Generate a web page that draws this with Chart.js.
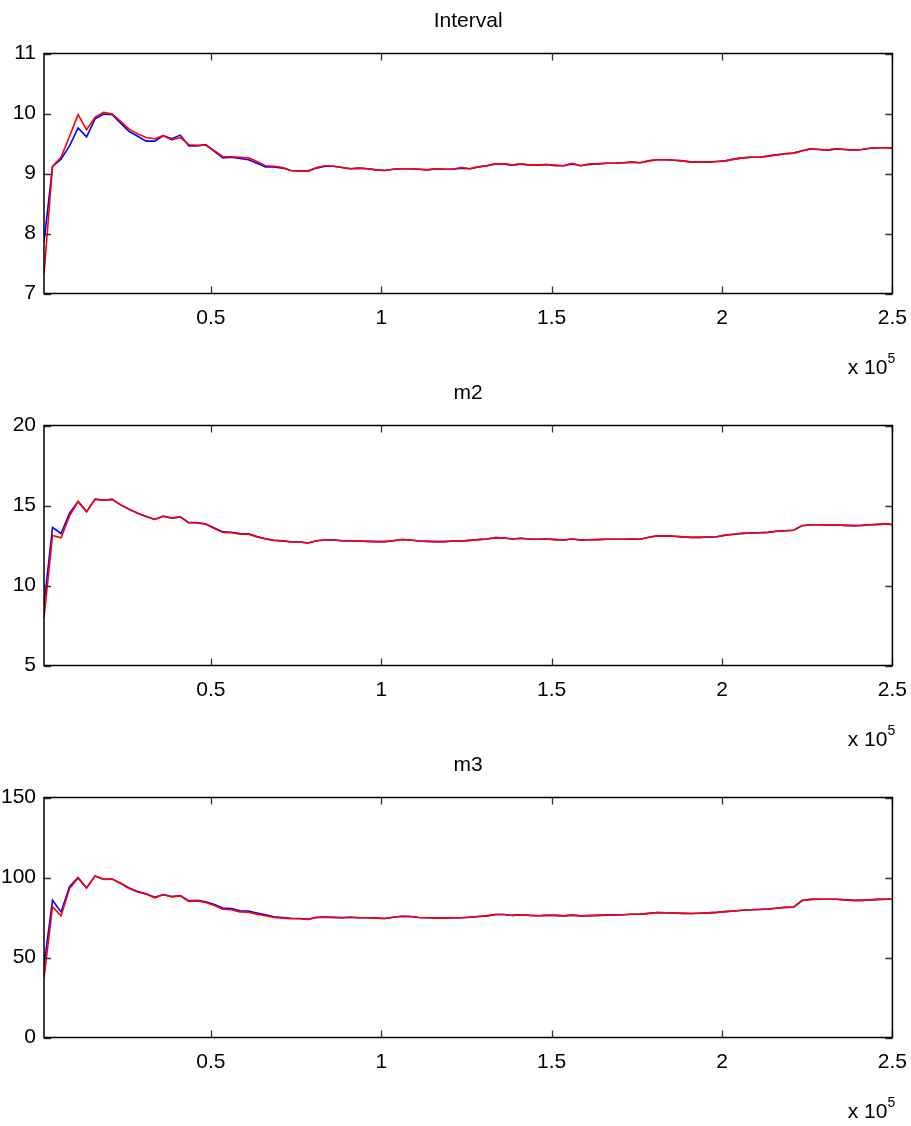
<!DOCTYPE html>
<html>
<head>
<meta charset="utf-8">
<script src="https://cdn.jsdelivr.net/npm/chart.js"></script>
<style>
  html, body { margin: 0; padding: 0; background: #fff; overflow: hidden; }
  .panel { position: absolute; left: 0; }
</style>
</head>
<body>
<canvas id="c1" class="panel" width="911" height="390" style="top:0px"></canvas>
<canvas id="c2" class="panel" width="911" height="390" style="top:372px"></canvas>
<canvas id="c3" class="panel" width="911" height="382" style="top:744px"></canvas>
<script>
// sample positions: first sample at 1000, then every 2500, last one at 250000
const sampleStart = 1000;
const sampleStep = 2500;
const sampleCount = 100;
const xEnd = 250000;
const xTicks = [50000, 100000, 150000, 200000, 250000];

const intervalBlue = [
  7.85, 9.12, 9.24, 9.46, 9.76, 9.61, 9.91, 9.99, 9.98, 9.84,
  9.70, 9.62, 9.54, 9.54, 9.63, 9.58, 9.64, 9.46, 9.46, 9.48,
  9.37, 9.26, 9.27, 9.25, 9.23, 9.17, 9.11, 9.11, 9.09, 9.05,
  9.04, 9.04, 9.09, 9.12, 9.12, 9.10, 9.08, 9.09, 9.08, 9.06,
  9.05, 9.07, 9.08, 9.08, 9.07, 9.06, 9.08, 9.07, 9.07, 9.09,
  9.08, 9.11, 9.13, 9.16, 9.16, 9.14, 9.16, 9.14, 9.14, 9.15,
  9.13, 9.13, 9.16, 9.13, 9.15, 9.16, 9.17, 9.17, 9.18, 9.19,
  9.18, 9.21, 9.23, 9.23, 9.22, 9.21, 9.19, 9.19, 9.19, 9.20,
  9.21, 9.24, 9.26, 9.27, 9.27, 9.29, 9.31, 9.33, 9.34, 9.38,
  9.41, 9.40, 9.39, 9.41, 9.40, 9.39, 9.40, 9.42, 9.43, 9.43,
  9.42
];
const intervalRed = [
  7.32, 9.12, 9.27, 9.62, 9.98, 9.73, 9.94, 10.02, 9.99, 9.87,
  9.74, 9.66, 9.60, 9.58, 9.63, 9.56, 9.60, 9.48, 9.47, 9.47,
  9.38, 9.28, 9.28, 9.27, 9.26, 9.20, 9.13, 9.12, 9.10, 9.05,
  9.04, 9.04, 9.10, 9.13, 9.12, 9.10, 9.08, 9.09, 9.08, 9.06,
  9.05, 9.07, 9.08, 9.08, 9.07, 9.06, 9.08, 9.07, 9.07, 9.10,
  9.08, 9.11, 9.13, 9.16, 9.16, 9.14, 9.16, 9.14, 9.14, 9.15,
  9.14, 9.13, 9.17, 9.13, 9.16, 9.16, 9.17, 9.17, 9.18, 9.19,
  9.18, 9.21, 9.23, 9.23, 9.22, 9.21, 9.19, 9.19, 9.19, 9.20,
  9.21, 9.24, 9.26, 9.27, 9.27, 9.29, 9.31, 9.33, 9.34, 9.38,
  9.41, 9.40, 9.39, 9.41, 9.40, 9.39, 9.40, 9.42, 9.43, 9.43,
  9.42
];

const m2Blue = [
  8.80, 13.63, 13.25, 14.52, 15.25, 14.62, 15.40, 15.33, 15.38, 15.04,
  14.77, 14.52, 14.31, 14.13, 14.33, 14.21, 14.29, 13.93, 13.93, 13.85,
  13.59, 13.35, 13.33, 13.24, 13.23, 13.06, 12.92, 12.83, 12.79, 12.73,
  12.72, 12.66, 12.80, 12.84, 12.84, 12.80, 12.78, 12.78, 12.76, 12.74,
  12.74, 12.80, 12.87, 12.84, 12.78, 12.76, 12.74, 12.74, 12.78, 12.78,
  12.82, 12.87, 12.91, 12.99, 12.97, 12.91, 12.95, 12.91, 12.89, 12.91,
  12.87, 12.84, 12.91, 12.84, 12.86, 12.87, 12.89, 12.89, 12.89, 12.91,
  12.89, 13.02, 13.10, 13.10, 13.08, 13.04, 13.01, 13.01, 13.03, 13.05,
  13.15, 13.20, 13.26, 13.28, 13.30, 13.32, 13.39, 13.42, 13.45, 13.74,
  13.80, 13.80, 13.79, 13.78, 13.76, 13.74, 13.76, 13.80, 13.82, 13.85,
  13.80
];
const m2Red = [
  7.96, 13.13, 12.98, 14.35, 15.25, 14.62, 15.40, 15.33, 15.38, 15.04,
  14.77, 14.52, 14.31, 14.13, 14.33, 14.21, 14.29, 13.92, 13.92, 13.83,
  13.56, 13.31, 13.30, 13.21, 13.21, 13.04, 12.91, 12.82, 12.78, 12.72,
  12.72, 12.66, 12.80, 12.84, 12.84, 12.80, 12.78, 12.78, 12.76, 12.74,
  12.74, 12.80, 12.87, 12.84, 12.78, 12.76, 12.74, 12.74, 12.78, 12.78,
  12.82, 12.87, 12.91, 12.99, 12.97, 12.91, 12.95, 12.91, 12.89, 12.91,
  12.87, 12.84, 12.91, 12.84, 12.86, 12.87, 12.89, 12.89, 12.89, 12.91,
  12.89, 13.02, 13.10, 13.10, 13.08, 13.04, 13.01, 13.01, 13.03, 13.05,
  13.15, 13.20, 13.26, 13.28, 13.30, 13.32, 13.39, 13.42, 13.45, 13.74,
  13.80, 13.80, 13.79, 13.78, 13.76, 13.74, 13.76, 13.80, 13.82, 13.85,
  13.80
];

const m3Blue = [
  45.0, 85.8, 78.5, 94.2, 100.0, 93.5, 101.0, 98.9, 99.1, 96.5,
  93.4, 91.3, 89.9, 87.6, 89.4, 88.1, 88.7, 85.4, 85.8, 84.9,
  83.2, 80.9, 80.6, 79.2, 79.0, 77.8, 76.7, 75.5, 75.0, 74.5,
  74.4, 73.9, 75.1, 75.3, 75.1, 74.9, 75.2, 74.8, 74.8, 74.6,
  74.4, 75.2, 75.8, 75.6, 75.0, 74.8, 74.6, 74.6, 74.8, 74.8,
  75.2, 75.6, 76.0, 76.9, 76.9, 76.3, 76.7, 76.3, 76.1, 76.3,
  76.3, 76.0, 76.5, 76.0, 76.2, 76.3, 76.5, 76.6, 76.7, 77.0,
  77.0, 77.6, 78.1, 78.0, 77.8, 77.6, 77.5, 77.7, 77.9, 78.2,
  78.7, 79.1, 79.5, 79.8, 80.0, 80.3, 80.8, 81.3, 81.5, 85.6,
  86.3, 86.4, 86.4, 86.4, 86.0, 85.7, 85.7, 86.0, 86.3, 86.4,
  86.4
];
const m3Red = [
  36.9, 81.7, 76.0, 93.1, 99.6, 93.5, 101.0, 98.75, 99.0, 96.25,
  93.1, 91.0, 89.6, 87.3, 89.2, 87.9, 88.5, 85.0, 85.4, 84.4,
  82.5, 80.2, 79.9, 78.5, 78.3, 77.1, 76.1, 75.0, 74.6, 74.2,
  74.2, 73.8, 75.0, 75.2, 75.0, 74.8, 75.2, 74.8, 74.8, 74.6,
  74.4, 75.2, 75.8, 75.6, 75.0, 74.8, 74.6, 74.6, 74.8, 74.8,
  75.2, 75.6, 76.0, 76.9, 76.9, 76.3, 76.7, 76.3, 76.1, 76.3,
  76.3, 76.0, 76.5, 76.0, 76.2, 76.3, 76.5, 76.6, 76.7, 77.0,
  77.0, 77.6, 78.1, 78.0, 77.8, 77.6, 77.5, 77.7, 77.9, 78.2,
  78.7, 79.1, 79.5, 79.8, 80.0, 80.3, 80.8, 81.3, 81.5, 85.6,
  86.3, 86.4, 86.4, 86.4, 86.0, 85.7, 85.7, 86.0, 86.3, 86.4,
  86.4
];

const sampleX = [];
for (let k = 0; k < sampleCount; k++) sampleX.push(sampleStart + k * sampleStep);
sampleX.push(xEnd);

const FONT = "'Liberation Sans', Arial, sans-serif";

// MATLAB-like box with inward ticks and the "x 10^5" exponent label
const matlabBox = {
    id: 'matlabBox',
    afterDraw(chart) {
        const { ctx, chartArea, scales } = chart;
        const { left, right, top, bottom } = chartArea;
        const tl = 7;
        ctx.save();
        ctx.strokeStyle = '#333';
        ctx.lineWidth = 1.3;
        ctx.beginPath();
        scales.x.ticks.forEach(t => {
            const px = Math.round(scales.x.getPixelForValue(t.value)) + 0.5;
            ctx.moveTo(px, bottom); ctx.lineTo(px, bottom - tl);
            ctx.moveTo(px, top); ctx.lineTo(px, top + tl);
        });
        scales.y.ticks.forEach(t => {
            const py = Math.round(scales.y.getPixelForValue(t.value)) + 0.5;
            ctx.moveTo(left, py); ctx.lineTo(left + tl, py);
            ctx.moveTo(right, py); ctx.lineTo(right - tl, py);
        });
        ctx.stroke();

        ctx.strokeStyle = '#000';
        ctx.lineWidth = 1.5;
        ctx.strokeRect(left, top, right - left, bottom - top);

        // exponent label
        ctx.fillStyle = '#000';
        ctx.textBaseline = 'alphabetic';
        ctx.textAlign = 'right';
        ctx.font = '21px ' + FONT;
        ctx.fillText('x 10', right - 5, bottom + 80);
        ctx.font = '14px ' + FONT;
        ctx.textAlign = 'left';
        ctx.fillText('5', right - 5, bottom + 69);
        ctx.restore();
    }
};

function makePanel(id, title, blue, red, yMin, yMax, yStep) {
    const canvas = document.getElementById(id);
    const xAxisHeight = canvas.height - 293.5;
    const toPoints = arr => arr.map((v, i) => ({ x: sampleX[i], y: v }));
    new Chart(canvas, {
        type: 'line',
        data: {
            datasets: [
                { data: toPoints(red), borderColor: '#ff0000', borderWidth: 1.6, pointRadius: 0, tension: 0, order: 0 },
                { data: toPoints(blue), borderColor: '#0000ff', borderWidth: 1.6, pointRadius: 0, tension: 0, order: 1 }
            ]
        },
        options: {
            responsive: false,
            animation: false,
            devicePixelRatio: 1,
            layout: { padding: { top: 0, right: 6, bottom: 0, left: 0 } },
            plugins: {
                legend: { display: false },
                tooltip: { enabled: false },
                title: {
                    display: true,
                    fullSize: false,
                    text: title,
                    color: '#000',
                    font: { family: FONT, size: 21, weight: 'normal', lineHeight: 1.2 },
                    padding: { top: 9, bottom: 19.3 }
                }
            },
            scales: {
                x: {
                    type: 'linear',
                    min: sampleStart,
                    max: xEnd,
                    grid: { display: false },
                    border: { display: false },
                    afterBuildTicks: s => { s.ticks = xTicks.map(v => ({ value: v })); },
                    afterFit: s => { s.height = xAxisHeight; },
                    ticks: {
                        color: '#000',
                        padding: 4,
                        maxRotation: 0,
                        font: { family: FONT, size: 21 },
                        callback: v => String(v / 100000)
                    }
                },
                y: {
                    min: yMin,
                    max: yMax,
                    grid: { display: false },
                    border: { display: false },
                    afterFit: s => { s.width = 44; },
                    ticks: {
                        color: '#000',
                        padding: 0,
                        stepSize: yStep,
                        font: { family: FONT, size: 21 }
                    }
                }
            }
        },
        plugins: [matlabBox]
    });
}

makePanel('c1', 'Interval', intervalBlue, intervalRed, 7, 11, 1);
makePanel('c2', 'm2', m2Blue, m2Red, 5, 20, 5);
makePanel('c3', 'm3', m3Blue, m3Red, 0, 150, 50);
</script>
</body>
</html>
